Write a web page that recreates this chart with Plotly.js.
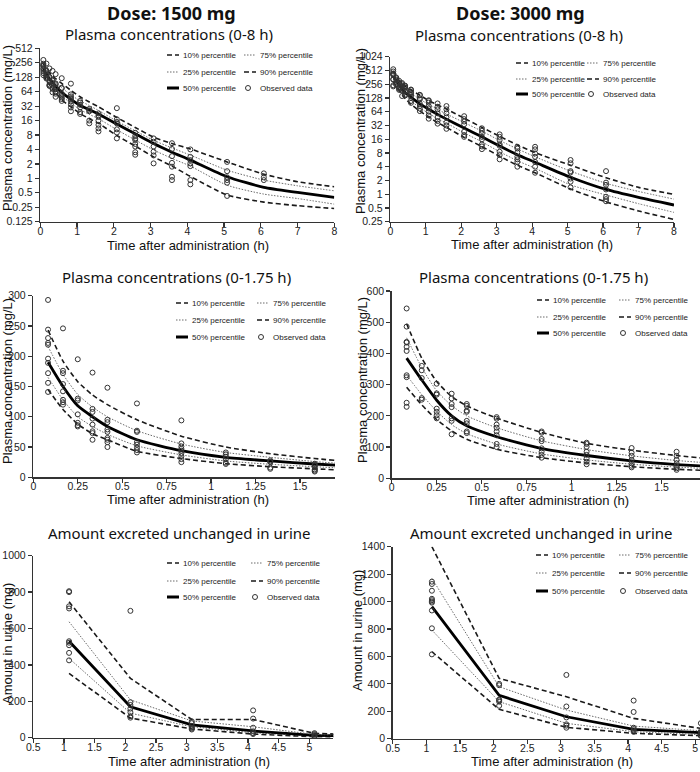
<!DOCTYPE html>
<html><head><meta charset="utf-8">
<script src="https://cdn.plot.ly/plotly-3.0.1.min.js"></script>
<style>
html,body{margin:0;padding:0;background:#fff;}
#chart{width:700px;height:772px;}
g.legendlines path{d:path('M24,0h12');}
g.legendpoints path.scatterpts{transform:translate(28px,0px);}
</style>
</head><body><div id="chart"></div>
<script>
// ---------------- DATA ----------------
const plasmaTimes = [0.083, 0.167, 0.25, 0.333, 0.417, 0.583, 0.833, 1.083, 1.333, 1.583, 2.083, 2.583, 3.083, 3.583, 4.083, 5.083, 6.083, 7, 8];

const pl1500_p10 = [145, 112, 88, 72, 62, 43, 31, 22.5, 17.5, 14, 7.8, 4.7, 2.8, 1.8, 1.1, 0.45, 0.32, 0.27, 0.235];
const pl1500_p25 = [165, 128, 100, 84, 71, 52, 37, 27, 21.5, 17.5, 10.3, 6.3, 3.9, 2.6, 1.8, 0.72, 0.47, 0.38, 0.29];
const pl1500_p50 = [190, 150, 118, 100, 84, 62, 44, 33, 27, 22, 13.5, 8.5, 5.3, 3.5, 2.4, 1.08, 0.65, 0.51, 0.40];
const pl1500_p75 = [216, 170, 137, 116, 100, 77, 55, 41, 33, 26, 15.5, 9.8, 6.2, 4.3, 3.05, 1.48, 0.92, 0.70, 0.55];
const pl1500_p90 = [243, 192, 158, 136, 120, 95, 68, 50, 39, 31, 18.5, 11.5, 7.2, 5.3, 4.1, 2.2, 1.22, 0.85, 0.67];

const pl3000_p10 = [292, 235, 188, 152, 125, 93, 66, 49, 37, 29, 17.5, 11, 6.8, 4.3, 2.95, 1.3, 0.68, 0.43, 0.28];
const pl3000_p25 = [330, 268, 215, 172, 143, 110, 78, 59, 45, 36, 22, 14, 8.5, 5.4, 3.7, 1.6, 0.96, 0.62, 0.40];
const pl3000_p50 = [385, 315, 250, 200, 168, 133, 95, 73, 56, 44, 28, 18, 11.3, 7.3, 5.0, 2.35, 1.27, 0.85, 0.58];
const pl3000_p75 = [450, 355, 280, 233, 200, 162, 120, 92, 72, 57, 37, 24, 15, 9.8, 6.6, 3.2, 1.73, 1.15, 0.78];
const pl3000_p90 = [495, 385, 310, 262, 232, 193, 147, 112, 90, 73, 46, 29, 18.5, 12, 8.1, 4.3, 2.3, 1.41, 0.99];

const obsPlasmaTimes = [0.083, 0.167, 0.25, 0.333, 0.417, 0.583, 0.833, 1.083, 1.333, 1.583, 2.083, 2.583, 3.083, 3.583, 4.083, 5.083, 6.083, 8.083];
const obsPlasma1500 = [
  [293, 244, 230, 222, 219, 196, 189, 172, 156, 141],
  [246, 176, 172, 154, 142, 128, 124, 120],
  [195, 130, 127, 104, 90, 86, 84],
  [173, 113, 108, 97, 87, 76, 73, 62],
  [148, 95, 91, 79, 75, 65, 62, 58, 50],
  [122, 77, 75, 58, 54, 49, 45, 41],
  [94, 56, 51, 47, 44, 40, 35, 30, 25],
  [41, 38, 34, 30, 24, 22],
  [28, 26, 25, 16, 14],
  [22.5, 20.5, 19, 16, 13, 11, 9.5],
  [29, 17, 15, 14, 10.5, 9, 6.8],
  [8.9, 7.6, 6.8, 6.3, 5.2, 4.6, 3.5, 3.1],
  [6.8, 5.8, 4.6, 3.6, 3.0, 2.05],
  [5.4, 4.1, 2.9, 2.1, 1.75, 1.08, 0.92],
  [4.0, 2.8, 2.4, 2.05, 1.8, 0.92, 0.75],
  [2.2, 1.41, 1.05, 0.92, 0.81, 0.43],
  [1.27, 1.05, 0.92],
  [0.82]
];
const obsPlasma3000 = [
  [544, 486, 437, 435, 421, 408, 330, 324, 242, 229],
  [360, 346, 321, 257, 252],
  [303, 272, 268, 223, 213, 202, 192],
  [271, 256, 238, 228, 192, 184, 141],
  [238, 232, 217, 213, 184, 176, 150, 145],
  [196, 191, 172, 162, 150, 138, 110, 100],
  [150, 146, 126, 119, 96, 85, 75, 66],
  [114, 110, 101, 85, 75, 64, 53, 45],
  [97, 82, 72, 59, 48, 40, 35],
  [85, 72, 59, 48, 37, 32, 27],
  [51, 44, 39, 34, 23.4, 19.7, 18],
  [27.7, 24.4, 21.4, 18, 15.9, 12.3, 11.1, 9.7],
  [20.4, 18, 15.3, 12.4, 11.5, 8.5, 7.2, 5.8],
  [10.9, 10, 8.2, 6.6, 5.8, 5.1, 4.0],
  [10.9, 9.6, 7.8, 6.6, 5.1, 4.0, 2.95],
  [5.6, 4.75, 3.2, 3.0, 2.2, 1.88, 1.41],
  [3.2, 1.79, 1.6, 1.27, 0.88, 0.78, 0.7],
  [0.55]
];

const urineTimes = [1.083, 2.083, 3.083, 4.083, 5.083, 6.083];
const ur1500_p10 = [353, 108, 48, 20, 5, 4];
const ur1500_p25 = [436, 135, 60, 27, 9, 6];
const ur1500_p50 = [530, 170, 70, 37, 13, 8];
const ur1500_p75 = [637, 208, 92, 60, 18, 10];
const ur1500_p90 = [747, 326, 100, 100, 24, 12];
const ur3000_p10 = [634, 214, 83, 39, 22, 13];
const ur3000_p25 = [792, 270, 112, 51, 29, 18];
const ur3000_p50 = [963, 316, 160, 68, 44, 25];
const ur3000_p75 = [1169, 379, 209, 92, 58, 32];
const ur3000_p90 = [1400, 440, 306, 148, 75, 40];

const obsUrineTimes = [1.083, 2.083, 3.083, 4.083, 5.083];
const obsUrine1500 = [
  [805, 800, 722, 710, 530, 522, 508, 466, 425],
  [697, 195, 180, 160, 140, 118, 110],
  [90, 80, 65, 55, 50, 45],
  [150, 105, 55, 35, 25, 20],
  [25, 20, 15, 10, 8, 5]
];
const obsUrine3000 = [
  [1145, 1128, 1079, 1020, 1010, 1000, 992, 935, 805, 615],
  [400, 390, 285, 280, 270, 240],
  [465, 235, 155, 105, 95, 80],
  [278, 195, 80, 70, 60, 50],
  [113, 55, 45, 35, 25, 20]
];

const seriesNames = ['10% percentile', '25% percentile', '50% percentile', '75% percentile', '90% percentile', 'Observed data'];
const log1500Ticks = [0.125, 0.25, 0.5, 1, 2, 4, 8, 16, 32, 64, 128, 256, 512];
const log3000Ticks = [0.25, 0.5, 1, 2, 4, 8, 16, 32, 64, 128, 256, 512, 1024];

// ---------------- BUILD ----------------
const W = 700, H = 772;
const fx = v => v / W;
const fy = v => 1 - v / H;

const lineStyles = [
  {color: '#1a1a1a', width: 1.6, dash: '5px,3px'},
  {color: '#6a6a6a', width: 1, dash: '1.5px,1.5px'},
  {color: '#000000', width: 2.8},
  {color: '#6a6a6a', width: 1, dash: '1.5px,1.5px'},
  {color: '#1a1a1a', width: 1.6, dash: '5px,3px'}
];
const legendRowOf = [0, 1, 2, 0, 1];
const legendColOf = [0, 0, 0, 1, 1];

function legendId(panel, row) { const n = panel * 3 + row + 1; return n === 1 ? 'legend' : 'legend' + n; }

function panelTraces(panel, t, pcts, obsT, obsV, spline, xmax, clip) {
  const s = panel === 0 ? '' : String(panel + 1);
  const traces = [];
  pcts.forEach((arr, i) => {
    const line = Object.assign({}, lineStyles[i]);
    if (spline) { line.shape = 'spline'; line.smoothing = 0.6; } else { line.shape = 'linear'; }
    const tr = {type: 'scatter', mode: 'lines', x: t, y: arr, xaxis: 'x' + s, yaxis: 'y' + s,
      name: seriesNames[i], line: line, legend: legendId(panel, legendRowOf[i]), hoverinfo: 'skip'};
    if (legendColOf[i] === 1) tr.legendwidth = 60;
    traces.push(tr);
  });
  const ox = [], oy = [];
  obsT.forEach((tt, i) => { if (tt <= xmax) obsV[i].forEach(v => { ox.push(tt); oy.push(v); }); });
  traces.push({type: 'scatter', mode: 'markers', x: ox, y: oy, xaxis: 'x' + s, yaxis: 'y' + s,
    name: seriesNames[5], legend: legendId(panel, 2), cliponaxis: clip, legendwidth: 60,
    marker: {symbol: 'circle-open', size: 5, color: '#333', line: {width: 1, color: '#333'}}});
  return traces;
}

const data = [].concat(
  panelTraces(0, plasmaTimes, [pl1500_p10, pl1500_p25, pl1500_p50, pl1500_p75, pl1500_p90], obsPlasmaTimes, obsPlasma1500, true, 99, false),
  panelTraces(1, plasmaTimes, [pl3000_p10, pl3000_p25, pl3000_p50, pl3000_p75, pl3000_p90], obsPlasmaTimes, obsPlasma3000, true, 99, false),
  panelTraces(2, plasmaTimes, [pl1500_p10, pl1500_p25, pl1500_p50, pl1500_p75, pl1500_p90], obsPlasmaTimes, obsPlasma1500, true, 1.7, true),
  panelTraces(3, plasmaTimes, [pl3000_p10, pl3000_p25, pl3000_p50, pl3000_p75, pl3000_p90], obsPlasmaTimes, obsPlasma3000, true, 1.7, true),
  panelTraces(4, urineTimes, [ur1500_p10, ur1500_p25, ur1500_p50, ur1500_p75, ur1500_p90], obsUrineTimes, obsUrine1500, false, 99, true),
  panelTraces(5, urineTimes, [ur3000_p10, ur3000_p25, ur3000_p50, ur3000_p75, ur3000_p90], obsUrineTimes, obsUrine3000, false, 99, true)
);

const tickFont = {family: 'Liberation Sans, Arial, sans-serif', size: 10.5, color: '#222'};
function ax(extra) {
  return Object.assign({showline: true, linecolor: '#333', linewidth: 1.5, ticks: 'outside', ticklen: 4,
    tickwidth: 1.2, tickcolor: '#333', showgrid: false, zeroline: false, tickfont: tickFont, fixedrange: true}, extra);
}
function xax(extra) { return ax(Object.assign({ticklabelstandoff: -5}, extra)); }

const layout = {
  width: W, height: H, autosize: false,
  margin: {l: 0, r: 0, t: 0, b: 0, pad: 0},
  paper_bgcolor: '#fff', plot_bgcolor: 'rgba(0,0,0,0)',
  showlegend: true,
  xaxis: xax({domain: [fx(40.3), fx(334.3)], range: [0, 8], dtick: 1, tick0: 0, anchor: 'y'}),
  yaxis: ax({domain: [fy(221.7), fy(48.3)], type: 'log', range: [Math.log10(0.125), Math.log10(512)],
    tickvals: log1500Ticks, ticktext: log1500Ticks.map(String), anchor: 'x'}),
  xaxis2: xax({domain: [fx(390.3), fx(674)], range: [0, 8], dtick: 1, tick0: 0, anchor: 'y2'}),
  yaxis2: ax({domain: [fy(221.7), fy(56.7)], type: 'log', range: [Math.log10(0.25), Math.log10(1024)],
    tickvals: log3000Ticks, ticktext: log3000Ticks.map(String), anchor: 'x2'}),
  xaxis3: xax({domain: [fx(33.3), fx(335)], range: [0, 1.697], dtick: 0.25, tick0: 0, anchor: 'y3'}),
  yaxis3: ax({domain: [fy(477.3), fy(295.7)], range: [0, 300], dtick: 50, tick0: 0, anchor: 'x3'}),
  xaxis4: xax({domain: [fx(391.7), 1], range: [0, 1.713], dtick: 0.25, tick0: 0, anchor: 'y4'}),
  yaxis4: ax({domain: [fy(478.3), fy(291)], range: [0, 600], dtick: 100, tick0: 0, anchor: 'x4'}),
  xaxis5: xax({domain: [fx(33.3), fx(333.3)], range: [0.5, 5.39], dtick: 0.5, tick0: 0.5, anchor: 'y5'}),
  yaxis5: ax({domain: [fy(737.7), fy(555.7)], range: [0, 1000], dtick: 200, tick0: 0, anchor: 'x5'}),
  xaxis6: xax({domain: [fx(392.7), 1], range: [0.5, 5.07], dtick: 0.5, tick0: 0.5, anchor: 'y6'}),
  yaxis6: ax({domain: [fy(738.7), fy(546.7)], range: [0, 1400], dtick: 200, tick0: 0, anchor: 'x6'}),
  annotations: [],
  font: {family: 'Liberation Sans, Arial, sans-serif', color: '#222'}
};

// legends: one legend per row, two entries per row
const legendPlaces = [
  {tx: 183, dx: 77, rows: [55, 72, 88]},
  {tx: 532, dx: 71, rows: [63, 79, 94]},
  {tx: 192, dx: 81, rows: [303, 320, 337]},
  {tx: 553, dx: 82, rows: [300, 317, 333]},
  {tx: 183, dx: 84, rows: [563, 581, 597]},
  {tx: 552, dx: 83, rows: [555, 573, 591]}
];
legendPlaces.forEach((p, panel) => {
  p.rows.forEach((ry, row) => {
    layout[legendId(panel, row)] = {
      orientation: 'h', x: fx(p.tx - 40), y: fy(ry), xanchor: 'left', yanchor: 'middle',
      entrywidth: p.dx - 45, entrywidthmode: 'pixels', bgcolor: 'rgba(0,0,0,0)', borderwidth: 0,
      font: {family: 'Liberation Sans, Arial, sans-serif', size: 8, color: '#222'},
      itemclick: false, itemdoubleclick: false
    };
  });
});

function ann(text, x, y, size, family, extra) {
  layout.annotations.push(Object.assign({text: text, x: fx(x), y: fy(y), xref: 'paper', yref: 'paper',
    xanchor: 'center', yanchor: 'middle', showarrow: false, borderpad: 0,
    font: {family: family, size: size, color: '#111'}}, extra || {}));
}
const titleFam = 'Noto Sans, Open Sans, sans-serif';
const axFam = 'Liberation Sans, Arial, sans-serif';
ann('<b>Dose: 1500 mg</b>', 171, 0, 18, titleFam, {yanchor: 'top'});
ann('<b>Dose: 3000 mg</b>', 520, 0, 18, titleFam, {yanchor: 'top'});
ann('Plasma concentrations (0-8 h)', 169, 34, 15, titleFam);
ann('Plasma concentrations (0-8 h)', 519, 35, 15, titleFam);
ann('Plasma concentrations (0-1.75 h)', 176, 277, 15, titleFam);
ann('Plasma concentrations (0-1.75 h)', 533, 277, 15, titleFam);
ann('Amount excreted unchanged in urine', 180, 533, 15, titleFam);
ann('Amount excreted unchanged in urine', 541, 533, 15, titleFam);

ann('Time after administration (h)', 188, 245, 13, axFam);
ann('Time after administration (h)', 532, 244, 13, axFam);
ann('Time after administration (h)', 188, 499, 13, axFam);
ann('Time after administration (h)', 548, 500, 13, axFam);
ann('Time after administration (h)', 189, 761, 13, axFam);
ann('Time after administration (h)', 552, 761, 13, axFam);

ann('Plasma concentration (mg/L)', 7, 128, 13, axFam, {textangle: -90});
ann('Plasma concentration (mg/L)', 361, 131, 13, axFam, {textangle: -90});
ann('Plasma concentration (mg/L)', 7, 381, 13, axFam, {textangle: -90});
ann('Plasma concentration (mg/L)', 362, 380, 13, axFam, {textangle: -90});
ann('Amount in urine (mg)', 7, 644, 13, axFam, {textangle: -90});
ann('Amount in urine (mg)', 357, 631, 13, axFam, {textangle: -90});

Plotly.newPlot('chart', data, layout, {staticPlot: true, displayModeBar: false});
</script></body></html>
